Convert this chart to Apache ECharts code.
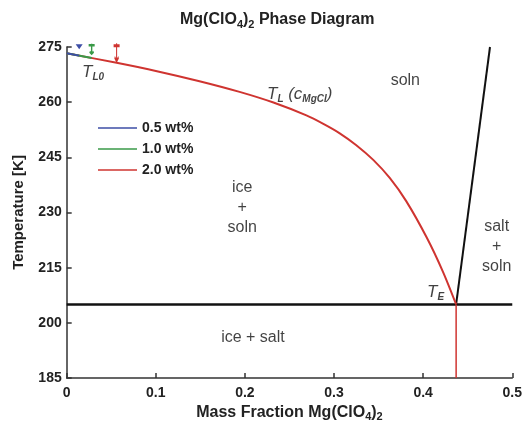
<!DOCTYPE html>
<html>
<head>
<meta charset="utf-8">
<script src="https://cdn.jsdelivr.net/npm/echarts@6/dist/echarts.min.js"></script>
<style>
  html, body { margin: 0; padding: 0; background: #fff; }
  #chart { width: 525px; height: 431px; }
</style>
</head>
<body>
<div id="chart"></div>
<script>
// liquidus curve (mass fraction, K)
const liqX = [0, 0.056, 0.1, 0.149, 0.194, 0.232, 0.269, 0.288, 0.306, 0.325, 0.344, 0.3625, 0.381, 0.404, 0.422, 0.437];
const liqT = [273.3, 270.7, 268.5, 265.7, 262.8, 259.9, 256.4, 254.1, 251.6, 248.3, 244.3, 239.4, 233.1, 223.2, 214.0, 205];
// shorter runs for the two low concentrations
const blueX = [0, 0.014];
const blueT = [273.3, 272.65];
const greenX = [0, 0.028];
const greenT = [273.3, 272.0];

// eutectic and salt solubility
const eutX = 0.437;
const eutT = 205;
const saltX = [0.437, 0.475];
const saltT = [205, 275];

// arrow markers on top of the curve
const markX = [0.014, 0.028, 0.056];
const markT = [275.1, 274.5, 273.6];

const seriesNames = ["0.5 wt%", "1.0 wt%", "2.0 wt%"];
const colors = ["#3d4ea6", "#3a9a48", "#cf3430"];

const xTicks = [0, 0.1, 0.2, 0.3, 0.4, 0.5];
const yTicks = [185, 200, 215, 230, 245, 260, 275];

const regionText = ["soln", "ice\n+\nsoln", "salt\n+\nsoln", "ice + salt"];
const regionX = [0.380, 0.197, 0.4825, 0.209];
const regionT = [266.0, 231.2, 220.6, 195.9];

const tagText = ["{t|T}{s|L0}", "{t|T}{s|L}{t| (}{c|c}{s|MgCl}{t|)}", "{t|T}{s|E}"];
const tagX = [0.0296, 0.2615, 0.414];
const tagT = [268.2, 262.2, 208.4];

const font = "'Liberation Sans', Arial, Helvetica, sans-serif";
const zip = (a, b) => a.map((v, i) => [v, b[i]]);

const chart = echarts.init(document.getElementById("chart"));

const subRich = {
	a: { fontSize: 16, fontWeight: "bold", fontFamily: font, color: "#222", lineHeight: 20 },
	s: { fontSize: 11, fontWeight: "bold", fontFamily: font, color: "#222", verticalAlign: "bottom", lineHeight: 12 },
};

const tri = "path://M0,0 L6,0 L3,4 Z";
const arrow = "path://M0,0 L6,0 M3,-2 L3,12 M1,9 L3,12 L5,9";

chart.setOption({
	animation: false,
	textStyle: { fontFamily: font },
	title: {
		text: "{a|Mg(ClO}{s|4}{a|)}{s|2}{a| Phase Diagram}",
		left: 175,
		top: 5,
		textStyle: { rich: subRich },
	},
	grid: { left: 66.7, right: 12, top: 47, bottom: 53, containLabel: false },
	legend: {
		data: seriesNames,
		orient: "vertical",
		left: 93,
		top: 116,
		itemWidth: 39,
		itemHeight: 14,
		itemGap: 7,
		icon: "path://M0,6 L39,6 L39,7.5 L0,7.5 Z",
		textStyle: { fontSize: 14, fontWeight: "bold", color: "#222", fontFamily: font },
	},
	xAxis: {
		type: "value",
		min: 0,
		max: 0.5,
		interval: 0.1,
		name: "{a|Mass Fraction Mg(ClO}{s|4}{a|)}{s|2}",
		nameLocation: "middle",
		nameGap: 24,
		nameTextStyle: { rich: subRich },
		axisLine: { lineStyle: { color: "#333", width: 1.5 } },
		axisTick: { inside: true, length: 5, lineStyle: { color: "#333", width: 1.5 } },
		axisLabel: {
			margin: 8,
			fontSize: 14,
			fontWeight: "bold",
			color: "#222",
			formatter: (v) => (v === 0 ? "0" : v.toFixed(1)),
		},
		splitLine: { show: false },
	},
	yAxis: {
		type: "value",
		min: yTicks[0],
		max: yTicks[yTicks.length - 1],
		interval: 15,
		name: "Temperature [K]",
		nameLocation: "middle",
		nameGap: 40,
		nameTextStyle: { fontSize: 15, fontWeight: "bold", color: "#222", fontFamily: font },
		axisLine: { show: true, lineStyle: { color: "#333", width: 1.5 } },
		axisTick: { show: true, inside: true, length: 5, lineStyle: { color: "#333", width: 1.5 } },
		axisLabel: { margin: 5, fontSize: 14, fontWeight: "bold", color: "#222" },
		splitLine: { show: false },
	},
	series: [
		{
			name: "eutectic",
			type: "line",
			data: [[0, eutT], [0.5, eutT]],
			symbol: "none",
			lineStyle: { color: "#111", width: 2.5 },
		},
		{
			name: "salt",
			type: "line",
			data: zip(saltX, saltT),
			symbol: "none",
			lineStyle: { color: "#111", width: 2 },
		},
		{
			name: "eutectic drop",
			type: "line",
			data: [[eutX, eutT], [eutX, yTicks[0]]],
			symbol: "none",
			lineStyle: { color: colors[2], width: 1.5 },
		},
		{
			name: seriesNames[2],
			type: "line",
			data: zip(liqX, liqT),
			smooth: 0.3,
			symbol: "none",
			color: colors[2],
			lineStyle: { color: colors[2], width: 2 },
		},
		{
			name: seriesNames[1],
			type: "line",
			data: zip(greenX, greenT),
			symbol: "none",
			color: colors[1],
			lineStyle: { color: colors[1], width: 2 },
		},
		{
			name: seriesNames[0],
			type: "line",
			data: zip(blueX, blueT),
			symbol: "none",
			color: colors[0],
			lineStyle: { color: colors[0], width: 2 },
		},
		{
			name: "markers",
			type: "scatter",
			silent: true,
			clip: false,
			z: 5,
			data: markX.map((x, i) => ({
				value: [x, markT[i]],
				symbol: i === 0 ? tri : arrow,
				symbolSize: i === 0 ? [7, 5] : i === 1 ? [6, 10] : [6, 18],
				itemStyle: i === 0
					? { color: colors[0], opacity: 1 }
					: { color: "none", borderColor: colors[i], borderWidth: 1.8, opacity: 1 },
			})),
		},
		{
			name: "regions",
			type: "scatter",
			silent: true,
			symbolSize: 0,
			data: regionText.map((t, i) => ({ value: [regionX[i], regionT[i]], name: t })),
			label: {
				show: true,
				position: "inside",
				formatter: (p) => p.name,
				fontSize: 16,
				lineHeight: 20,
				color: "#111",
				fontFamily: font,
				align: "center",
			},
		},
		{
			name: "tags",
			type: "scatter",
			silent: true,
			symbolSize: 0,
			data: tagText.map((t, i) => ({ value: [tagX[i], tagT[i]], name: t })),
			label: {
				show: true,
				position: "inside",
				formatter: (p) => p.name,
				rich: {
					t: { fontSize: 17, fontStyle: "italic", color: "#111", fontFamily: font, lineHeight: 20 },
					c: { fontSize: 17, fontStyle: "italic", color: "#111", fontFamily: font, lineHeight: 20 },
					s: { fontSize: 10, fontStyle: "italic", fontWeight: "bold", color: "#111", fontFamily: font, verticalAlign: "bottom", lineHeight: 11 },
				},
			},
		},
	],
});
</script>
</body>
</html>
